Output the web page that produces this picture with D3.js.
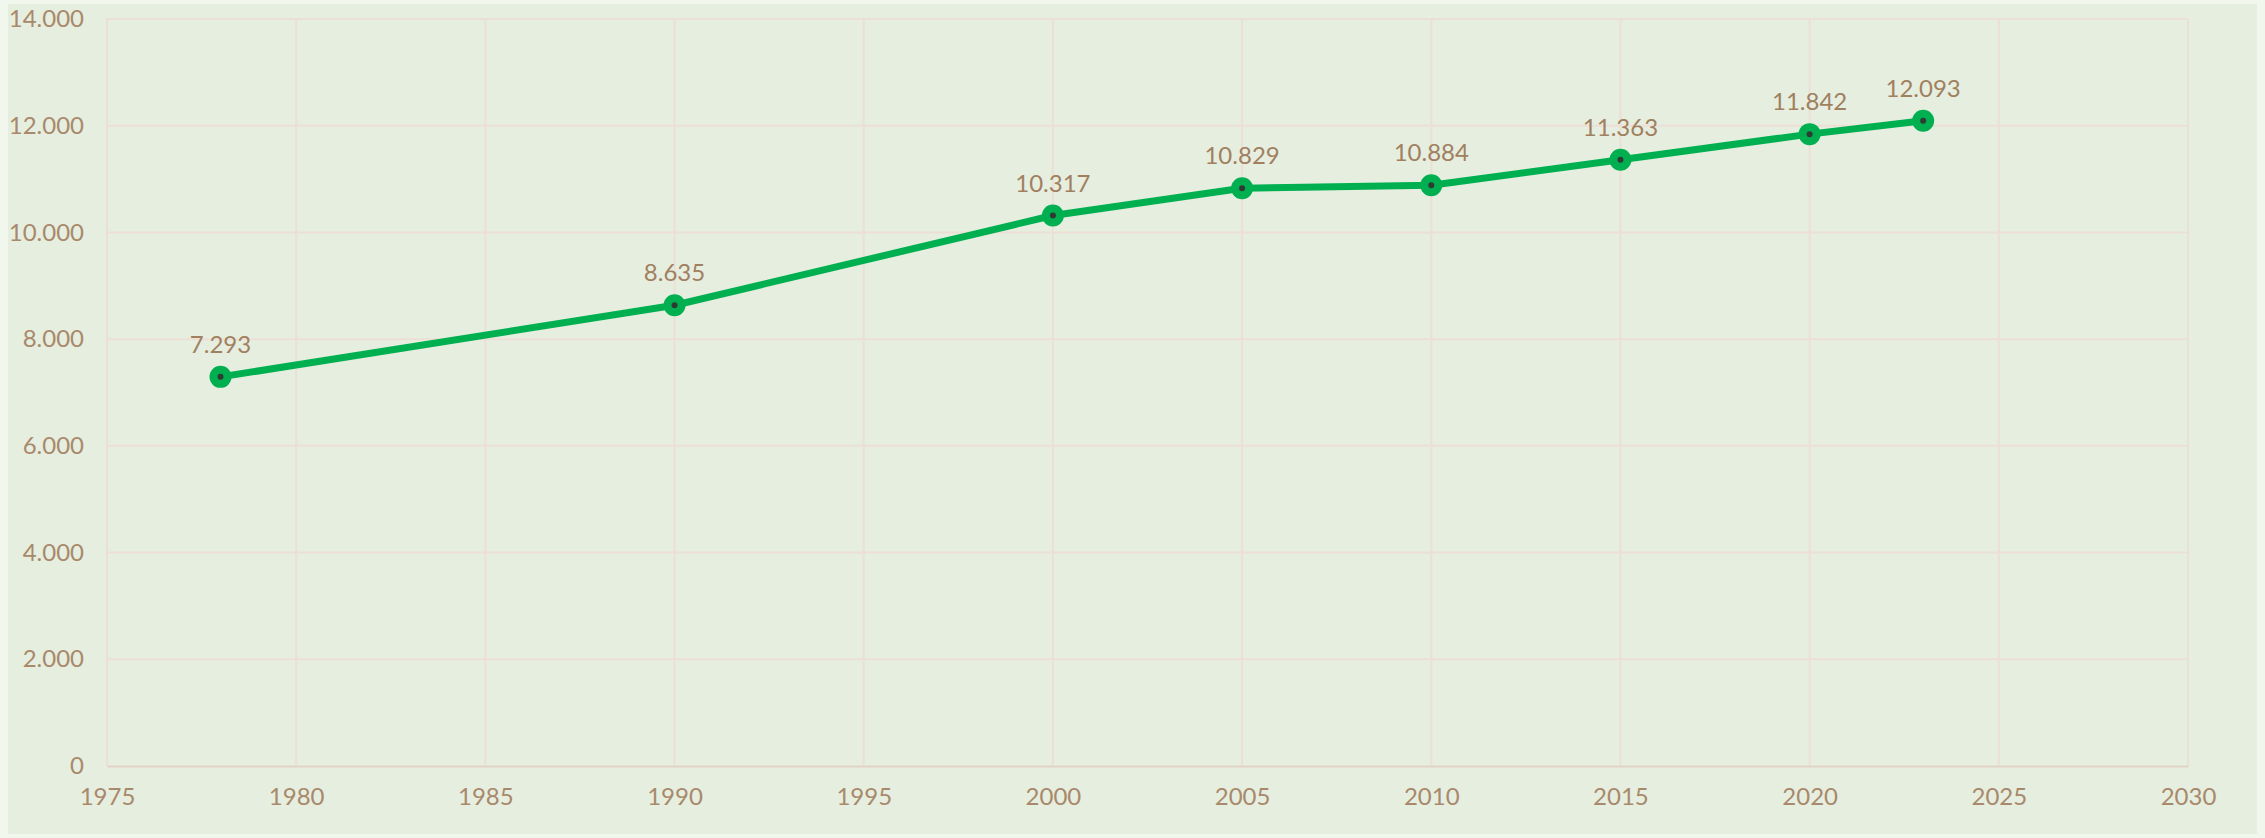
<!DOCTYPE html>
<html>
<head>
<meta charset="utf-8">
<script src="https://cdn.jsdelivr.net/npm/d3@7"></script>
<style>
  html, body { margin: 0; padding: 0; background: #f1f7ec; }
  #chartbox { width: 2265px; height: 838px; }
</style>
</head>
<body>
<div id="chartbox"></div>
<script>
// data
var years = [1978, 1990, 2000, 2005, 2010, 2015, 2020, 2023];
var values = [7293, 8635, 10317, 10829, 10884, 11363, 11842, 12093];
var xTicks = [1975, 1980, 1985, 1990, 1995, 2000, 2005, 2010, 2015, 2020, 2025, 2030];
var yTicks = [0, 2000, 4000, 6000, 8000, 10000, 12000, 14000];

const width = 2265;
const height = 838;
var margin = {top: 19, right: 77, bottom: 72, left: 107};

var svg = d3.select('#chartbox').append('svg')
  .attr('width', width).attr('height', height)
  .attr('viewBox', [0, 0, width, height]);

// panel
svg.append('rect').attr('x', 8).attr('y', 4).attr('width', 2249).attr('height', 830).attr('fill', '#e6eedf');

var x = d3.scaleLinear().domain([1975, 2030]).range([margin.left, width - margin.right]);
var y = d3.scaleLinear().domain([0, 14000]).range([height - margin.bottom, margin.top]);

// number format with dot as thousands separator
var fmt = d3.formatLocale({decimal: ',', thousands: '.', grouping: [3], currency: ['', '']}).format(',d');

var font = 'Lato, "Open Sans", sans-serif';
var textCol = '#a8896b';
var gridCol = '#ecdfd6';

// grid
svg.append('g').selectAll('line').data(yTicks.slice(1)).join('line')
  .attr('x1', x(1975)).attr('x2', x(2030))
  .attr('y1', d => y(d)).attr('y2', d => y(d))
  .attr('stroke', gridCol).attr('stroke-width', 2);
svg.append('g').selectAll('line').data(xTicks).join('line')
  .attr('x1', d => x(d)).attr('x2', d => x(d))
  .attr('y1', y(0)).attr('y2', y(14000))
  .attr('stroke', gridCol).attr('stroke-width', 2);

// axes
var xAxis = d3.axisBottom(x).tickValues(xTicks).tickFormat(d3.format('d')).tickSize(0).tickPadding(22);
var gx = svg.append('g').attr('transform', 'translate(0,' + y(0) + ')').call(xAxis);
gx.select('.domain').attr('stroke', '#e2d3c8').attr('stroke-width', 2);
gx.selectAll('text').attr('fill', textCol).style('font-family', font).style('font-size', '24px');

var yAxis = d3.axisLeft(y).tickValues(yTicks).tickFormat(fmt).tickSize(0).tickPadding(23);
var gy = svg.append('g').attr('transform', 'translate(' + x(1975) + ',0)').call(yAxis);
gy.select('.domain').remove();
gy.selectAll('text').attr('fill', textCol).style('font-family', font).style('font-size', '24px');

// line
var pts = years.map((d, i) => [d, values[i]]);
svg.append('path').datum(pts)
  .attr('d', d3.line().x(d => x(d[0])).y(d => y(d[1])))
  .attr('fill', 'none').attr('stroke', '#00b050').attr('stroke-width', 7)
  .attr('stroke-linejoin', 'round');

// markers
svg.append('g').selectAll('circle').data(pts).join('circle')
  .attr('cx', d => x(d[0])).attr('cy', d => y(d[1])).attr('r', 11)
  .attr('fill', '#00b050');
svg.append('g').selectAll('circle').data(pts).join('circle')
  .attr('cx', d => x(d[0])).attr('cy', d => y(d[1])).attr('r', 3)
  .attr('fill', '#2f3a33');

// data labels
svg.append('g').selectAll('text').data(pts).join('text')
  .attr('x', d => x(d[0])).attr('y', d => y(d[1]) - 24)
  .attr('text-anchor', 'middle')
  .attr('fill', '#a0805f').style('font-family', font).style('font-size', '24px')
  .text(d => fmt(d[1]));
</script>
</body>
</html>
